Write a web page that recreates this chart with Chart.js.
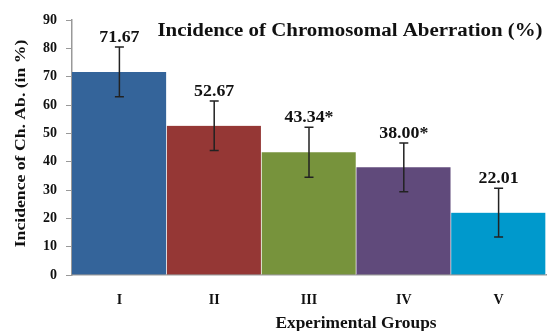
<!DOCTYPE html>
<html>
<head>
<meta charset="utf-8">
<script src="https://cdn.jsdelivr.net/npm/chart.js@4.4.1/dist/chart.umd.min.js"></script>
<style>
html,body{margin:0;padding:0;background:#fff;}
#wrap{width:547px;height:331px;position:relative;}
</style>
</head>
<body>
<div id="wrap"><canvas id="c"></canvas></div>
<script>
const categories = ["I", "II", "III", "IV", "V"];
const values = [71.67, 52.67, 43.34, 38.00, 22.01];
const errors = [8.8, 8.7, 8.8, 8.6, 8.6];
const valueLabels = ["71.67", "52.67", "43.34*", "38.00*", "22.01"];
const yTicks = [0, 10, 20, 30, 40, 50, 60, 70, 80, 90];
const barColors = ["#34649A", "#953735", "#77933C", "#604A7B", "#0099CC"];
const chartTitle = "Incidence of Chromosomal Aberration (%)";
const xTitle = "Experimental Groups";
const yTitle = "Incidence of Ch. Ab. (in %)";

const SERIF = "'Liberation Serif', 'Times New Roman', serif";

function stretchedText(ctx, text, x, y, sx) {
  ctx.save();
  ctx.translate(x, y);
  ctx.scale(sx, 1);
  ctx.fillText(text, 0, 0);
  ctx.restore();
}

const overlay = {
  id: 'overlay',
  afterDatasetsDraw(chart) {
    const ctx = chart.ctx;
    const x = chart.scales.x, y = chart.scales.y;
    ctx.save();
    // error bars
    ctx.strokeStyle = '#222';
    ctx.lineWidth = 1.5;
    values.forEach((v, i) => {
      const cx = x.getPixelForValue(i);
      const yt = y.getPixelForValue(v + errors[i]);
      const yb = y.getPixelForValue(v - errors[i]);
      ctx.beginPath();
      ctx.moveTo(cx, yt); ctx.lineTo(cx, yb);
      ctx.moveTo(cx - 4.5, yt); ctx.lineTo(cx + 4.5, yt);
      ctx.moveTo(cx - 4.5, yb); ctx.lineTo(cx + 4.5, yb);
      ctx.stroke();
    });
    // value labels
    ctx.fillStyle = '#111';
    ctx.font = "bold 17px " + SERIF;
    ctx.textAlign = 'center';
    ctx.textBaseline = 'alphabetic';
    values.forEach((v, i) => {
      const cx = x.getPixelForValue(i);
      const yt = y.getPixelForValue(v + errors[i]);
      stretchedText(ctx, valueLabels[i], cx, yt - 5, 1.05);
    });
    // chart title
    ctx.font = "bold 18.5px " + SERIF;
    stretchedText(ctx, chartTitle, 350, 35.5, 1.13);
    // x title
    ctx.font = "bold 17px " + SERIF;
    stretchedText(ctx, xTitle, 356, 328, 1.02);
    // y title
    ctx.translate(21, 143.5);
    ctx.rotate(-Math.PI / 2);
    ctx.font = "bold 15.5px " + SERIF;
    ctx.textBaseline = 'middle';
    stretchedText(ctx, yTitle, 0, 0, 1.14);
    ctx.restore();
  }
};

new Chart(document.getElementById('c'), {
  type: 'bar',
  data: {
    labels: categories,
    datasets: [{
      data: values,
      backgroundColor: barColors,
      borderColor: '#fff',
      borderWidth: {left: 0, right: 1, top: 0, bottom: 0},
      borderSkipped: false,
      categoryPercentage: 1.0,
      barPercentage: 1.0
    }]
  },
  options: {
    responsive: true,
    maintainAspectRatio: false,
    animation: false,
    devicePixelRatio: 1,
    layout: {padding: {top: 20, right: 1, left: 0, bottom: 0}},
    plugins: {legend: {display: false}, tooltip: {enabled: false}, title: {display: false}},
    scales: {
      x: {
        grid: {display: false, drawTicks: false},
        border: {display: true, color: '#999', width: 1.5},
        ticks: {color: '#111', font: {family: SERIF, size: 14, weight: 'bold'}, padding: 17},
        afterFit(s) { s.height = 56; }
      },
      y: {
        min: 0, max: 90,
        afterBuildTicks(s) { s.ticks = yTicks.map(v => ({value: v})); },
        grid: {display: true, drawOnChartArea: false, drawTicks: true, tickLength: 6, color: '#999'},
        border: {display: true, color: '#999', width: 1.5},
        ticks: {color: '#111', font: {family: SERIF, size: 14, weight: 'bold'}, padding: 9},
        afterFit(s) { s.width = 72; }
      }
    }
  },
  plugins: [overlay]
});
</script>
</body>
</html>
